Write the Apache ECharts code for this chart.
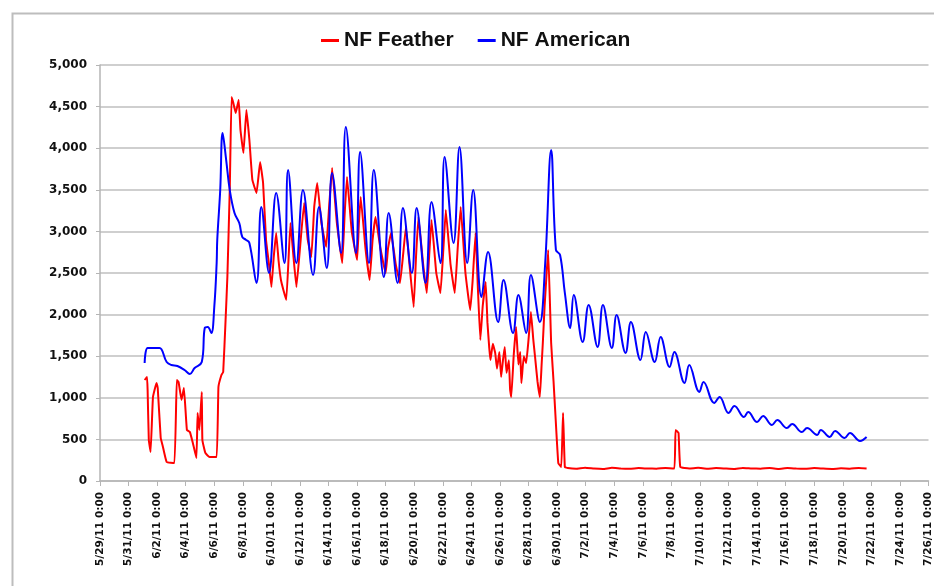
<!DOCTYPE html>
<html>
<head>
<meta charset="utf-8">
<script src="https://cdn.jsdelivr.net/npm/echarts@6/dist/echarts.min.js"></script>
<style>
html,body{margin:0;padding:0;background:#fff;}
#chart{width:934px;height:586px;}
</style>
</head>
<body>
<div id="chart"></div>
<script>
// Hours since 2011-05-29 00:00
const seriesNames = ["NF Feather", "NF American"];

const featherHours = [75,79,80,82,85,89,95,97,102,105,112,125,129,132,137,141,146,151,156,162,164,167,171,172,177,184,196,199,204,207,211,214,218,221,224,228,233,236,241,246,251,256,263,269,274,279,284,288,292,296,300,304,308,313,320,325,330,336,343,349,355,360,365,372,380,385,390,398,407,411,415,423,432,435,438,446,453,458,463,471,480,484,489,497,504,509,514,520,527,531,535,543,549,553,557,565,572,577,581,589,596,601,606,614,622,626,631,635,639,643,648,651,654,656,660,664,667,671,674,677,680,683,687,689,691,695,699,703,706,708,712,716,720,724,728,731,735,739,742,744,747,750,753,758,762,765,770,775,778,781,786,800,815,830,845,860,875,890,905,920,935,950,965,967,972,975,990,1005,1020,1035,1050,1065,1080,1095,1110,1125,1140,1155,1170,1185,1200,1215,1230,1245,1260,1275,1288];
const featherFlow = [1214,1250,1094,493,349,1010,1178,1118,517,433,228,216,1214,1190,974,1118,613,589,457,276,817,613,1070,493,337,288,288,1130,1274,1310,1935,2452,3498,4616,4544,4423,4580,4219,3943,4459,4099,3618,3462,3834,3582,2897,2600,2332,2700,2981,2650,2416,2300,2176,3101,2700,2332,2800,3342,2900,2692,3300,3582,3100,2813,3300,3762,3100,2620,3200,3654,3000,2656,3100,3414,2800,2416,2900,3173,2800,2500,2800,2981,2600,2380,2700,3053,2600,2091,2700,3173,2600,2260,2700,3137,2500,2260,2800,3257,2600,2260,2800,3293,2500,2055,2400,2981,2300,1695,2100,2392,1900,1600,1454,1650,1539,1350,1550,1250,1450,1611,1300,1450,1100,1010,1500,1851,1400,1550,1178,1500,1418,1700,2031,1700,1490,1200,1010,1400,1659,2100,2452,2777,1659,1200,817,216,168,817,168,156,148,160,150,145,158,150,147,155,150,148,156,150,613,577,168,150,158,147,155,150,145,157,150,148,156,145,155,150,147,155,149,145,152,148,156,150,156];

const americanHours = [75,80,89,100,112,120,130,142,151,159,171,176,181,187,192,196,197,202,206,212,218,226,234,239,245,251,263,271,284,296,310,316,330,341,358,368,381,390,405,413,430,437,452,460,477,485,500,509,524,532,547,557,572,579,594,604,617,627,641,652,669,678,694,703,716,724,739,748,758,766,773,781,790,796,811,821,836,845,860,868,883,892,908,917,932,942,957,965,982,990,1007,1014,1032,1041,1056,1066,1082,1089,1104,1114,1129,1138,1154,1163,1179,1188,1205,1211,1226,1235,1251,1260,1277,1288];
const americanFlow = [1418,1599,1599,1599,1430,1394,1382,1334,1286,1358,1430,1839,1851,1779,2091,2620,2897,3498,4183,3858,3498,3221,3101,2933,2900,2861,2380,3293,2500,3462,2620,3738,2620,3498,2476,3293,2560,3702,2740,4255,2740,3955,2620,3738,2452,3221,2380,3281,2500,3281,2380,3354,2620,3894,2861,4015,2620,3498,2212,2753,1911,2416,1779,2236,1779,2476,1911,2620,3979,2777,2717,2260,1839,2236,1671,2116,1611,2116,1599,1995,1539,1911,1454,1791,1430,1731,1370,1551,1178,1394,1070,1190,938,1010,817,902,769,829,709,781,673,733,637,685,589,637,553,613,529,601,517,577,481,529];

const yTicks = [0, 500, 1000, 1500, 2000, 2500, 3000, 3500, 4000, 4500, 5000];

function zip(a, b) { return a.map((v, i) => [v, b[i]]); }
function hourLabel(h) {
  const d = new Date(2011, 4, 29 + Math.round(h / 24));
  return (d.getMonth() + 1) + "/" + d.getDate() + "/11 0:00";
}

const chart = echarts.init(document.getElementById('chart'), null, {renderer: 'canvas'});
chart.setOption({
  animation: false,
  backgroundColor: '#ffffff',
  graphic: [{
    type: 'rect', left: 10, top: 11,
    shape: {width: 1000, height: 1000},
    style: {fill: 'none', stroke: '#bdbdbd', lineWidth: 2},
    silent: true
  }],
  legend: {
    left: 316, top: 25,
    icon: 'rect', itemWidth: 18, itemHeight: 3, itemGap: 24,
    textStyle: {fontFamily: 'Liberation Sans, Arial', fontWeight: 'bold', fontSize: 21, color: '#111'},
    data: seriesNames
  },
  grid: {left: 100, right: 4, top: 65, bottom: 105, containLabel: false},
  xAxis: {
    type: 'value', min: 0, max: 1392, interval: 48,
    axisLine: {show: true, lineStyle: {color: '#b5b5b5', width: 1.5}},
    axisTick: {show: true, length: 5, lineStyle: {color: '#b5b5b5'}},
    splitLine: {show: false},
    axisLabel: {
      rotate: 90, margin: 11, showMaxLabel: true, showMinLabel: true,
      fontFamily: 'DejaVu Sans', fontWeight: 'bold', fontSize: 10.5, color: '#111',
      formatter: v => hourLabel(v)
    }
  },
  yAxis: {
    type: 'value', min: yTicks[0], max: yTicks[yTicks.length - 1], interval: 500,
    axisLine: {show: true, lineStyle: {color: '#b5b5b5', width: 1.5}},
    axisTick: {show: true, length: 4, lineStyle: {color: '#b5b5b5'}},
    splitLine: {show: true, lineStyle: {color: '#cfcfcf', width: 2}},
    axisLabel: {
      margin: 13, fontFamily: 'DejaVu Sans', fontWeight: 'bold', fontSize: 12, color: '#111',
      formatter: v => v.toLocaleString('en-US')
    }
  },
  series: [
    {
      name: seriesNames[0], type: 'line', data: zip(featherHours, featherFlow),
      showSymbol: false, symbol: 'none', smooth: 0.1,
      lineStyle: {color: '#ff0000', width: 2}, itemStyle: {color: '#ff0000'}, z: 2
    },
    {
      name: seriesNames[1], type: 'line', data: zip(americanHours, americanFlow),
      showSymbol: false, symbol: 'none', smooth: 0.4,
      lineStyle: {color: '#0000ff', width: 2}, itemStyle: {color: '#0000ff'}, z: 3
    }
  ]
});
</script>
</body>
</html>
